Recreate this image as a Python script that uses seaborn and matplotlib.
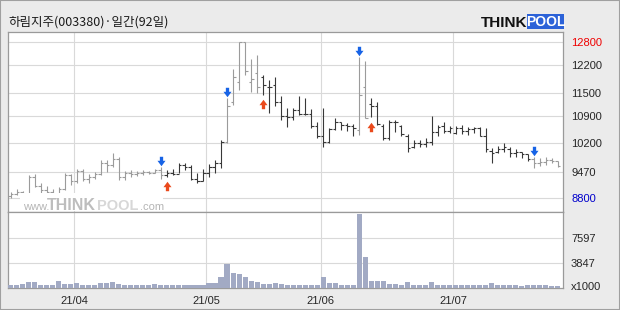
import numpy as np
import pandas as pd
import matplotlib
matplotlib.use("Agg")
import matplotlib.pyplot as plt
import seaborn as sns
from matplotlib.path import Path
from matplotlib.patches import Rectangle
from matplotlib.transforms import offset_copy
from matplotlib import font_manager

# ---------------- data ----------------
title = "하림지주(003380)·일간(92일)"

opens = [8850, 8920, 8960, 8900, 9350, 9120, 9000, 8960, 8900, 9050,
         9400, 9230, 9500, 9300, 9350, 9420, 9700, 9650, 9800, 9350,
         9450, 9420, 9450, 9480, 9450, 9520, 9400, 9450, 9420, 9650,
         9600, 9300, 9250, 9450, 9600, 9700, 10250, 11250, 11780, 12780,
         11780, 12000, 11900, 11650, 11700, 11250, 10900, 10880, 11050, 10950,
         10950, 10650, 10400, 10250, 10580, 10750, 10680, 10650, 10550, 11640,
         11200, 11160, 10650, 10350, 10750, 10650, 10400, 10120, 10200, 10180,
         10250, 10500, 10650, 10520, 10460, 10600, 10520, 10560, 10600, 10380,
         10020, 9970, 10050, 10050, 9950, 9970, 9920, 9800, 9700, 9720,
         9780, 9750]
highs = [8960, 9030, 8990, 9400, 9420, 9180, 9120, 9030, 9080, 9450,
         9420, 9560, 9560, 9420, 9480, 9780, 9790, 9960, 9850, 9500,
         9520, 9500, 9520, 9500, 9560, 9600, 9520, 9540, 9710, 9690,
         9660, 9440, 9540, 9670, 9780, 10290, 11350, 12090, 12800, 12800,
         12360, 12460, 11950, 11820, 11900, 11420, 11100, 11100, 11400, 11350,
         11070, 10760, 11100, 10590, 10840, 10760, 10730, 10700, 12400, 12300,
         11350, 11270, 10700, 10800, 10800, 10670, 10450, 10290, 10290, 10330,
         10900, 10670, 10760, 10650, 10650, 10670, 10610, 10630, 10610, 10590,
         10080, 10140, 10220, 10100, 10050, 9990, 9930, 9860, 9820, 9850,
         9820, 9760]
lows = [8800, 8880, 8860, 8880, 9080, 8940, 8900, 8830, 8880, 9020,
        9150, 9200, 9240, 9200, 9300, 9400, 9480, 9600, 9280, 9280,
        9350, 9380, 9400, 9420, 9440, 9300, 9350, 9400, 9440, 9520,
        9280, 9180, 9250, 9350, 9440, 9570, 10220, 11180, 11560, 11950,
        11520, 11480, 11440, 10990, 11150, 10800, 10630, 10800, 10930, 10930,
        10590, 10330, 10120, 10220, 10550, 10550, 10530, 10380, 10420, 10840,
        10870, 10670, 10290, 10290, 10500, 10380, 9970, 10080, 10120, 10120,
        10160, 10390, 10480, 10460, 10440, 10440, 10420, 10480, 10380, 9990,
        9690, 9950, 9990, 9850, 9850, 9820, 9740, 9570, 9630, 9650,
        9690, 9590]
closes = [8920, 8960, 8900, 9350, 9120, 9000, 8960, 8900, 9050, 9400,
          9230, 9500, 9300, 9350, 9420, 9700, 9650, 9800, 9350, 9450,
          9420, 9450, 9480, 9450, 9520, 9400, 9450, 9420, 9650, 9600,
          9300, 9250, 9450, 9600, 9700, 10250, 11150, 11890, 12780, 12050,
          11850, 11640, 11700, 11640, 11250, 10900, 10880, 11050, 10950, 10950,
          10650, 10400, 10250, 10580, 10750, 10680, 10650, 10600, 11450, 10860,
          11160, 10700, 10350, 10750, 10750, 10450, 10080, 10200, 10180, 10250,
          10500, 10620, 10520, 10600, 10600, 10520, 10560, 10600, 10380, 10050,
          9950, 10050, 10100, 9950, 9970, 9920, 9800, 9700, 9720, 9780,
          9750, 9620]
volumes = [400, 400, 550, 860, 860, 450, 450, 500, 1010, 600,
           650, 700, 450, 400, 450, 750, 800, 850, 550, 450,
           400, 400, 400, 500, 550, 450, 400, 450, 400, 450,
           400, 450, 450, 750, 750, 1620, 3610, 2280, 2080, 1620,
           1010, 860, 650, 650, 760, 650, 450, 450, 450, 450,
           450, 450, 1620, 760, 760, 400, 400, 400, 11260, 4730,
           1010, 1010, 1010, 650, 650, 500, 860, 400, 400, 400,
           860, 400, 400, 400, 400, 400, 400, 400, 450, 450,
           700, 500, 500, 500, 450, 350, 400, 400, 400, 400,
           350, 300]
sell_signals = [25, 36, 58, 87]
buy_signals = [26, 42, 60]
price_ticks = [12800, 12200, 11500, 10900, 10200, 9470, 8800]
volume_ticks = [3847, 7597]
volume_unit = "x1000"
month_labels = ["21/04", "21/05", "21/06", "21/07"]
month_start_index = [11, 33, 52, 74]

# ---------------- style ----------------
sns.set_theme(style="white")
names = {f.name for f in font_manager.fontManager.ttflist}
if "Liberation Sans Narrow" in names:
    num_font, num_size = "Liberation Sans Narrow", 9.3
else:
    num_font, num_size = "Liberation Sans", 8
plt.rcParams["font.family"] = ["Noto Sans CJK KR", "DejaVu Sans"]

W, H = 620, 310
fig = plt.figure(figsize=(W / 100, H / 100), dpi=100)
fig.patch.set_facecolor("#ebebeb")


def fx(x):
    return x / W


def fy(y):
    return 1 - y / H


L, R, T, M, B = 7.5, 563, 31.5, 212, 288
ax = fig.add_axes([fx(L), fy(M), (R - L) / W, (M - T) / H])
axv = fig.add_axes([fx(L), fy(B), (R - L) / W, (B - M) / H])

df = pd.DataFrame({"open": opens, "high": highs, "low": lows,
                   "close": closes, "volume": volumes})
n = len(df)
idx = np.arange(n)

# colour state from signals
state = "gray"
tones = []
for i in idx:
    if i in sell_signals:
        state = "gray"
    elif i in buy_signals:
        state = "dark"
    tones.append(state)
cmap = {"gray": "#9b9b9b", "dark": "#383838"}
cols = [cmap[t] for t in tones]

grid_c = "#d9d9d9"
grid_x = [m - 0.45 for m in month_start_index]
xlim = (-0.5, 91.85)

# ---------------- price panel ----------------
ax.set_facecolor("white")
ax.vlines(idx, df["low"], df["high"], colors=cols, lw=0.8, zorder=3)
ax.hlines(df["open"], idx - 0.42, idx, colors=cols, lw=0.8, zorder=3)
ax.hlines(df["close"], idx, idx + 0.42, colors=cols, lw=0.8, zorder=3)
ax.set_xlim(*xlim)
ax.set_ylim(8450, 13060)
ax.set_xticks(grid_x)
ax.tick_params(axis="x", labelbottom=False, length=0)
ax.yaxis.tick_right()
ax.set_yticks(price_ticks)
ax.set_yticklabels([str(v) for v in price_ticks], fontfamily=num_font,
                   fontsize=num_size)
ax.tick_params(axis="y", length=0, pad=5.8)
labs = ax.get_yticklabels()
labs[0].set_color("#ee0000")
labs[-1].set_color("#0000cc")
ax.grid(True, color=grid_c, lw=0.8)
ax.set_axisbelow(True)
for s in ax.spines.values():
    s.set_color("#9a9a9a")
    s.set_linewidth(0.9)

# arrows
down_v = [(-0.35, 1), (0.35, 1), (0.35, 0.15), (0.85, 0.15), (0, -1),
          (-0.85, 0.15), (-0.35, 0.15), (-0.35, 1)]
codes = [Path.MOVETO] + [Path.LINETO] * 6 + [Path.CLOSEPOLY]
down_path = Path(down_v, codes)
up_path = Path([(x, -y) for x, y in down_v], codes)
tr_down = offset_copy(ax.transData, fig=fig, x=0, y=6, units="dots")
tr_up = offset_copy(ax.transData, fig=fig, x=0, y=-9.5, units="dots")
ax.plot(sell_signals, df["high"].iloc[sell_signals], ls="none",
        marker=down_path, markersize=6.8, color="#1763e6", mec="none",
        transform=tr_down, zorder=5)
ax.plot(buy_signals, df["low"].iloc[buy_signals], ls="none",
        marker=up_path, markersize=6.8, color="#ea4a1c", mec="none",
        transform=tr_up, zorder=5)

# watermark
fig.add_artist(Rectangle((fx(20), fy(211)), 143 / W, 18 / H,
                         transform=fig.transFigure, fc="white", ec="none",
                         zorder=2))
fig.text(fx(23), fy(209.5), "www.", fontsize=8, color="#b5b5b5",
         family="Liberation Sans", va="baseline", zorder=3)
fig.text(fx(47), fy(209.5), "THINK", fontsize=11.5, color="#bdbdbd",
         family="Liberation Sans", fontweight="bold", va="baseline", zorder=3)
fig.text(fx(97), fy(209.5), "POOL", fontsize=10.5, color="#d7d7d7",
         family="Liberation Sans", fontweight="bold", va="baseline", zorder=3)
fig.text(fx(140), fy(209.5), ".com", fontsize=8, color="#b5b5b5",
         family="Liberation Sans", va="baseline", zorder=3)

# ---------------- volume panel ----------------
axv.set_facecolor("white")
sns.barplot(x=idx, y=df["volume"], ax=axv, color="#a2aac4", saturation=1,
            width=0.85, linewidth=0, zorder=3)
axv.set_xlim(*xlim)
axv.set_ylim(0, 11514)
axv.set_xlabel("")
axv.set_ylabel("")
axv.set_xticks(grid_x)
axv.set_xticklabels(month_labels, fontfamily=num_font, fontsize=num_size)
axv.tick_params(axis="x", length=0, pad=6)
axv.grid(True, axis="x", color=grid_c, lw=0.8)
for v in volume_ticks:
    axv.axhline(v, color=grid_c, lw=0.8, zorder=0.5)
axv.set_axisbelow(True)
axv.yaxis.tick_right()
axv.set_yticks([300] + volume_ticks)
axv.set_yticklabels([volume_unit] + [str(v) for v in volume_ticks],
                    fontfamily=num_font, fontsize=num_size)
axv.tick_params(axis="y", length=0, pad=5.8)
for s in axv.spines.values():
    s.set_color("#9a9a9a")
    s.set_linewidth(0.9)

# ---------------- header ----------------
fig.text(fx(8), fy(22.5), title, fontsize=9, color="#1a1a1a", va="center")
fig.text(fx(481), fy(27), "THINK", fontsize=11, color="#111111",
         family="Liberation Sans", fontweight="bold", va="baseline")
fig.add_artist(Rectangle((fx(527), fy(28.5)), 37 / W, 14.5 / H,
                         transform=fig.transFigure, fc="#2c62d8", ec="none"))
fig.text(fx(545.5), fy(21.5), "POOL", fontsize=10, color="white",
         family="Liberation Sans", fontweight="bold", va="center", ha="center")

fig.add_artist(Rectangle((0, 0), 1, 1, transform=fig.transFigure,
                         fill=False, ec="#a0a0a0", lw=1.5))

fig.savefig("out.png", dpi=100, facecolor=fig.get_facecolor())
